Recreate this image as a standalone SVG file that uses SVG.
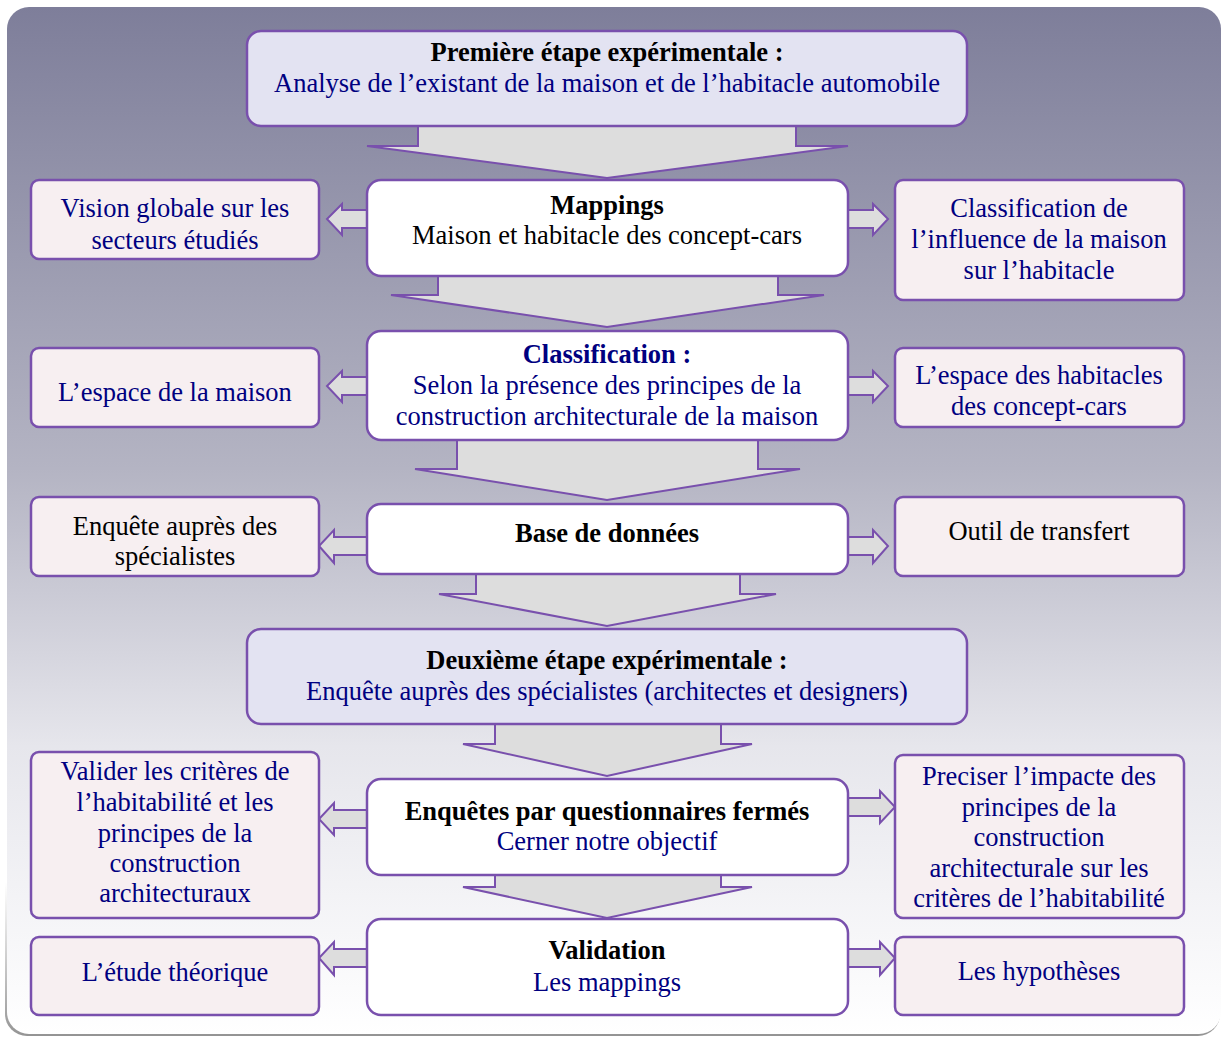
<svg xmlns="http://www.w3.org/2000/svg" width="1221" height="1039" viewBox="0 0 1221 1039">
<defs>
<linearGradient id="bg" x1="0" y1="0" x2="0" y2="1">
<stop offset="0" stop-color="#7e7e9a"/>
<stop offset="0.45" stop-color="#b4b4c3"/>
<stop offset="0.72" stop-color="#e6e6ec"/>
<stop offset="1" stop-color="#ffffff"/>
</linearGradient>
<linearGradient id="sh" x1="0" y1="0" x2="0" y2="1">
<stop offset="0.85" stop-color="#777" stop-opacity="0"/>
<stop offset="1" stop-color="#666" stop-opacity="0.7"/>
</linearGradient>
</defs>
<style>
.main{fill:#ffffff;stroke:#7950ad;stroke-width:2.5}
.step{fill:#e3e3f2;stroke:#7950ad;stroke-width:2.5}
.side{fill:#f7eff1;stroke:#7950ad;stroke-width:2.5}
.arr{fill:#dddddd;stroke:#7950ad;stroke-width:2;stroke-linejoin:miter}
text{font-family:"Liberation Serif","Times New Roman",serif;font-size:26.5px;text-anchor:middle}
.b{font-weight:bold;fill:#000}
.k{fill:#000}
.n{fill:#000080}
.nb{fill:#000080;font-weight:bold}
</style>
<rect x="5" y="10" width="1215" height="1026" rx="22" fill="url(#sh)"/>
<rect x="7" y="7" width="1214" height="1027" rx="22" fill="url(#bg)"/>
<g id="connectors">
<polygon class="arr" points="418,124 418,146 367,146 607,178 848,146 796,146 796,124"/>
<polygon class="arr" points="438,274 438,295 391,295 607,327 824,295 778,295 778,274"/>
<polygon class="arr" points="457,438 457,469 415,469 607,500 800,469 758,469 758,438"/>
<polygon class="arr" points="476,572 476,594 439,594 607,626 776,594 740,594 740,572"/>
<polygon class="arr" points="495,722 495,744 463,744 607,776 752,744 721,744 721,722"/>
<polygon class="arr" points="495,873 495,887 463,887 607,918 752,887 721,887 721,873"/>
<polygon class="arr" points="369,210 342,210 342,204 327,219 342,235 342,228 369,228"/>
<polygon class="arr" points="846,210 873,210 873,204 888,219 873,235 873,228 846,228"/>
<polygon class="arr" points="369,377 342,377 342,371 327,386 342,402 342,395 369,395"/>
<polygon class="arr" points="846,377 873,377 873,371 888,386 873,402 873,395 846,395"/>
<polygon class="arr" points="369,537 334,537 334,530 319,546 334,563 334,555 369,555"/>
<polygon class="arr" points="846,537 873,537 873,530 888,546 873,563 873,555 846,555"/>
<polygon class="arr" points="369,810 334,810 334,803 319,819 334,835 334,828 369,828"/>
<polygon class="arr" points="846,798 880,798 880,791 895,807 880,823 880,816 846,816"/>
<polygon class="arr" points="369,949 334,949 334,942 319,958 334,975 334,967 369,967"/>
<polygon class="arr" points="846,949 880,949 880,942 895,958 880,975 880,967 846,967"/>
</g>
<g id="step1">
<rect class="step" x="247" y="31" width="720" height="95" rx="14"/>
<text class="b" x="607" y="61">Première étape expérimentale :</text>
<text class="n" x="607" y="92">Analyse de l’existant de la maison et de l’habitacle automobile</text>
</g>
<g id="mappings">
<rect class="main" x="367" y="180" width="481" height="96" rx="14"/>
<text class="b" x="607" y="214">Mappings</text>
<text class="k" x="607" y="244">Maison et habitacle des concept-cars</text>
</g>
<g id="vision">
<rect class="side" x="31" y="180" width="288" height="79" rx="8"/>
<text class="n" x="175" y="217">Vision globale sur les</text>
<text class="n" x="175" y="249">secteurs étudiés</text>
</g>
<g id="classinfluence">
<rect class="side" x="895" y="180" width="289" height="120" rx="8"/>
<text class="n" x="1039" y="217">Classification de</text>
<text class="n" x="1039" y="248">l’influence de la maison</text>
<text class="n" x="1039" y="279">sur l’habitacle</text>
</g>
<g id="classification">
<rect class="main" x="367" y="331" width="481" height="109" rx="14"/>
<text class="nb" x="607" y="363">Classification :</text>
<text class="n" x="607" y="394">Selon la présence des principes de la</text>
<text class="n" x="607" y="425">construction architecturale de la maison</text>
</g>
<g id="espacemaison">
<rect class="side" x="31" y="348" width="288" height="79" rx="8"/>
<text class="n" x="175" y="401">L’espace de la maison</text>
</g>
<g id="espacehabitacles">
<rect class="side" x="895" y="348" width="289" height="79" rx="8"/>
<text class="n" x="1039" y="384">L’espace des habitacles</text>
<text class="n" x="1039" y="415">des concept-cars</text>
</g>
<g id="base">
<rect class="main" x="367" y="504" width="481" height="70" rx="14"/>
<text class="b" x="607" y="542">Base de données</text>
</g>
<g id="enquetespec">
<rect class="side" x="31" y="497" width="288" height="79" rx="8"/>
<text class="k" x="175" y="535">Enquête auprès des</text>
<text class="k" x="175" y="565">spécialistes</text>
</g>
<g id="outil">
<rect class="side" x="895" y="497" width="289" height="79" rx="8"/>
<text class="k" x="1039" y="540">Outil de transfert</text>
</g>
<g id="step2">
<rect class="step" x="247" y="629" width="720" height="95" rx="14"/>
<text class="b" x="607" y="669">Deuxième étape expérimentale :</text>
<text class="n" x="607" y="700">Enquête auprès des spécialistes (architectes et designers)</text>
</g>
<g id="enquetes">
<rect class="main" x="367" y="779" width="481" height="96" rx="14"/>
<text class="b" x="607" y="820">Enquêtes par questionnaires fermés</text>
<text class="n" x="607" y="850">Cerner notre objectif</text>
</g>
<g id="valider">
<rect class="side" x="31" y="752" width="288" height="166" rx="8"/>
<text class="n" x="175" y="780">Valider les critères de</text>
<text class="n" x="175" y="811">l’habitabilité et les</text>
<text class="n" x="175" y="842">principes de la</text>
<text class="n" x="175" y="872">construction</text>
<text class="n" x="175" y="902">architecturaux</text>
</g>
<g id="preciser">
<rect class="side" x="895" y="755" width="289" height="163" rx="8"/>
<text class="n" x="1039" y="785">Preciser l’impacte des</text>
<text class="n" x="1039" y="816">principes de la</text>
<text class="n" x="1039" y="846">construction</text>
<text class="n" x="1039" y="877">architecturale sur les</text>
<text class="n" x="1039" y="907">critères de l’habitabilité</text>
</g>
<g id="validation">
<rect class="main" x="367" y="919" width="481" height="96" rx="14"/>
<text class="b" x="607" y="959">Validation</text>
<text class="n" x="607" y="991">Les mappings</text>
</g>
<g id="etude">
<rect class="side" x="31" y="937" width="288" height="78" rx="8"/>
<text class="n" x="175" y="981">L’étude théorique</text>
</g>
<g id="hypotheses">
<rect class="side" x="895" y="937" width="289" height="78" rx="8"/>
<text class="n" x="1039" y="980">Les hypothèses</text>
</g>
</svg>
